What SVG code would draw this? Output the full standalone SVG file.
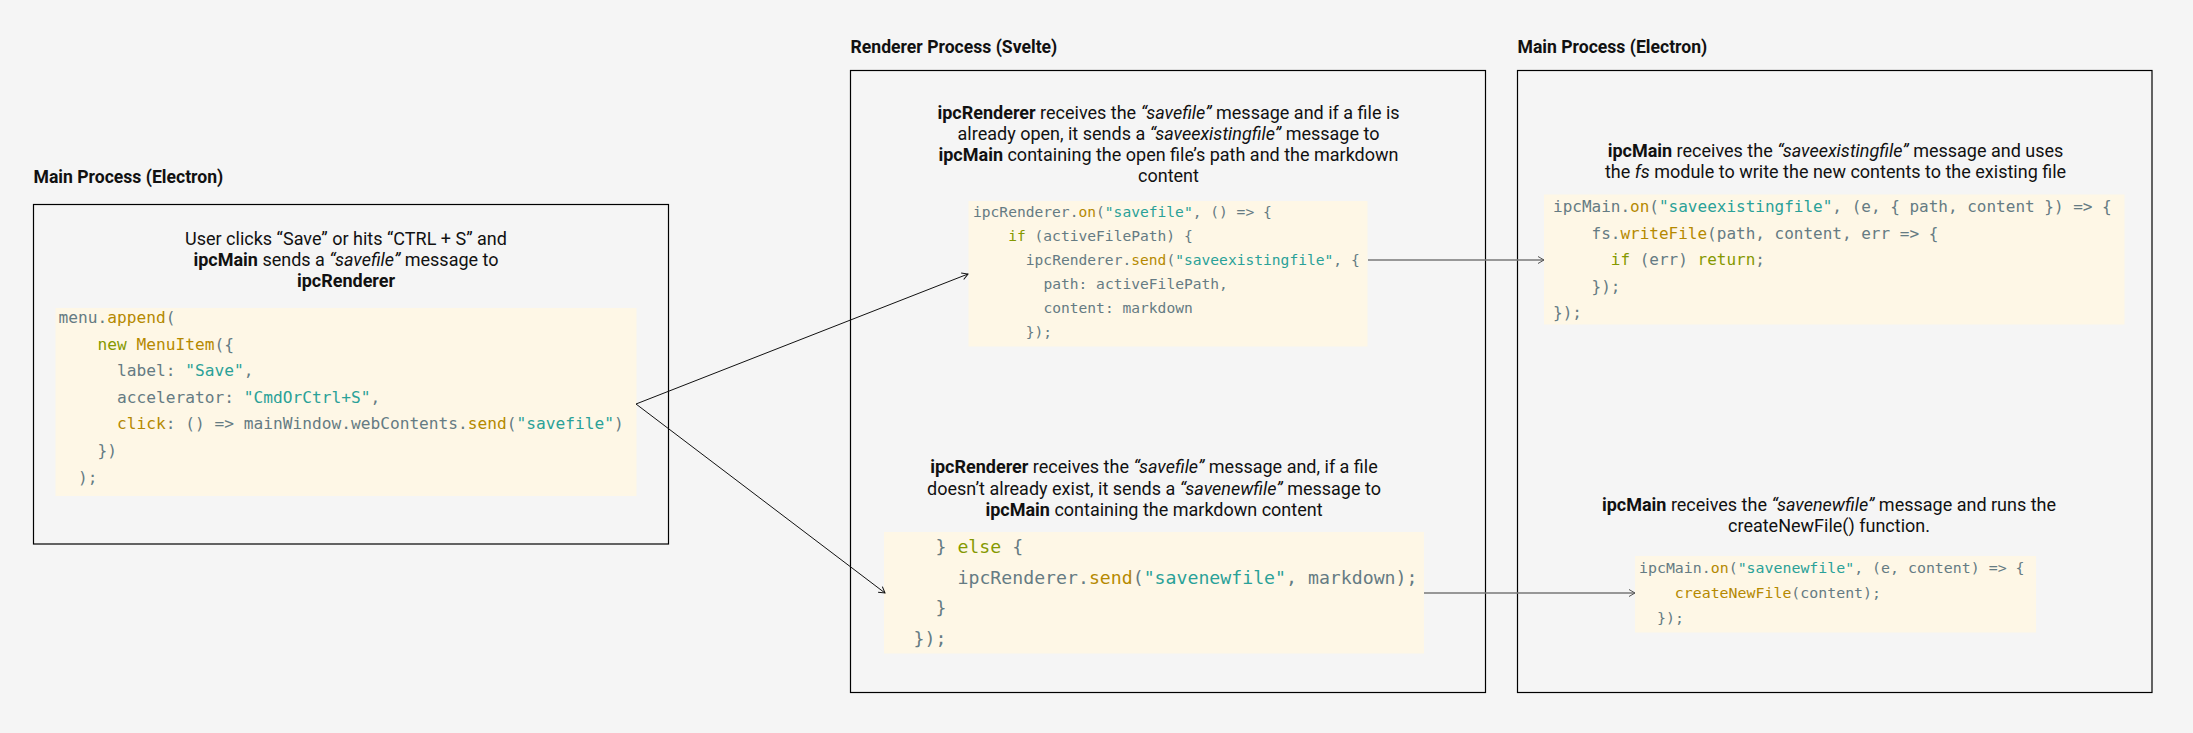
<svg xmlns="http://www.w3.org/2000/svg" width="2193" height="733" viewBox="0 0 2193 733">
<defs>
<style>
.bg{fill:#f5f5f5}
.box{fill:none;stroke:#000;stroke-width:1.2}
.title{font-family:Roboto,"Noto Sans",sans-serif;font-weight:bold;font-size:17.6px;fill:#111}
.desc{font-family:Roboto,"Noto Sans",sans-serif;font-size:18px;fill:#111;text-anchor:middle}
.b{font-weight:bold}
.i{font-style:italic}
.codebg{fill:#fef7e6}
.code{font-family:"DejaVu Sans Mono","Liberation Mono",monospace;fill:#657b83;white-space:pre}
.y{fill:#b58900}
.g{fill:#859900}
.c{fill:#2aa198}
.blk{fill:none;stroke:#111;stroke-width:1}
.gry{fill:none;stroke:#777;stroke-width:1.4}
</style>
<marker id="ahB" markerUnits="userSpaceOnUse" markerWidth="10" markerHeight="10" refX="7" refY="4" orient="auto">
<path d="M1,0.5 L7,4 L1,7.5" fill="none" stroke="#111" stroke-width="1"/>
</marker>
<marker id="ahG" markerUnits="userSpaceOnUse" markerWidth="10" markerHeight="10" refX="7" refY="4" orient="auto">
<path d="M1,0.5 L7,4 L1,7.5" fill="none" stroke="#555" stroke-width="1"/>
</marker>
</defs>
<rect class="bg" x="0" y="0" width="2193" height="733"/>

<g id="main-process-left">
<text class="title" x="33.5" y="182.5">Main Process (Electron)</text>
<rect class="box" x="33.5" y="204.5" width="635" height="339.5"/>
<text class="desc" x="346" y="245">User clicks “Save” or hits “CTRL + S” and</text>
<text class="desc" x="346" y="266"><tspan class="b">ipcMain</tspan> sends a <tspan class="i">“savefile”</tspan> message to</text>
<text class="desc" x="346" y="287"><tspan class="b">ipcRenderer</tspan></text>
<rect class="codebg" x="55.5" y="308" width="581" height="188"/>
<g class="code" font-size="16.2px">
<text x="58.5" y="323">menu.<tspan class="y">append</tspan>(</text>
<text x="97.5" y="349.6"><tspan class="g">new</tspan> <tspan class="y">MenuItem</tspan>({</text>
<text x="117" y="376.2">label: <tspan class="c">"Save"</tspan>,</text>
<text x="117" y="402.8">accelerator: <tspan class="c">"CmdOrCtrl+S"</tspan>,</text>
<text x="117" y="429.4"><tspan class="y">click</tspan>: () =&gt; mainWindow.webContents.<tspan class="y">send</tspan>(<tspan class="c">"savefile"</tspan>)</text>
<text x="97.5" y="456">})</text>
<text x="78" y="482.6">);</text>
</g>
</g>

<g id="renderer-process">
<text class="title" x="850.5" y="52.5">Renderer Process (Svelte)</text>
<rect class="box" x="850.5" y="70.5" width="635" height="622"/>
<g id="renderer-existing">
<text class="desc" x="1168.5" y="118.5"><tspan class="b">ipcRenderer</tspan> receives the <tspan class="i">“savefile”</tspan> message and if a file is</text>
<text class="desc" x="1168.5" y="139.5">already open, it sends a <tspan class="i">“saveexistingfile”</tspan> message to</text>
<text class="desc" x="1168.5" y="160.7"><tspan class="b">ipcMain</tspan> containing the open file’s path and the markdown</text>
<text class="desc" x="1168.5" y="181.7">content</text>
<rect class="codebg" x="968.5" y="201" width="399" height="145.5"/>
<g class="code" font-size="14.6px">
<text x="973" y="217">ipcRenderer.<tspan class="y">on</tspan>(<tspan class="c">"savefile"</tspan>, () =&gt; {</text>
<text x="1008.2" y="241"><tspan class="g">if</tspan> (activeFilePath) {</text>
<text x="1025.8" y="265">ipcRenderer.<tspan class="y">send</tspan>(<tspan class="c">"saveexistingfile"</tspan>, {</text>
<text x="1043.4" y="289">path: activeFilePath,</text>
<text x="1043.4" y="313">content: markdown</text>
<text x="1025.8" y="337">});</text>
</g>
</g>
<g id="renderer-new">
<text class="desc" x="1154" y="473"><tspan class="b">ipcRenderer</tspan> receives the <tspan class="i">“savefile”</tspan> message and, if a file</text>
<text class="desc" x="1154" y="494.5">doesn’t already exist, it sends a <tspan class="i">“savenewfile”</tspan> message to</text>
<text class="desc" x="1154" y="516"><tspan class="b">ipcMain</tspan> containing the markdown content</text>
<rect class="codebg" x="884" y="532" width="540" height="121.5"/>
<g class="code" font-size="18.2px">
<text x="935.5" y="553">} <tspan class="g">else</tspan> {</text>
<text x="957.5" y="583.5">ipcRenderer.<tspan class="y">send</tspan>(<tspan class="c">"savenewfile"</tspan>, markdown);</text>
<text x="935.5" y="614">}</text>
<text x="913.5" y="644.5">});</text>
</g>
</g>
</g>

<g id="main-process-right">
<text class="title" x="1517.5" y="52.5">Main Process (Electron)</text>
<rect class="box" x="1517.5" y="70.5" width="634.5" height="622"/>
<g id="main-existing">
<text class="desc" x="1835.5" y="157"><tspan class="b">ipcMain</tspan> receives the <tspan class="i">“saveexistingfile”</tspan> message and uses</text>
<text class="desc" x="1835.5" y="178">the <tspan class="i">fs</tspan> module to write the new contents to the existing file</text>
<rect class="codebg" x="1544" y="194.5" width="580.5" height="130"/>
<g class="code" font-size="16px">
<text x="1553" y="212">ipcMain.<tspan class="y">on</tspan>(<tspan class="c">"saveexistingfile"</tspan>, (e, { path, content }) =&gt; {</text>
<text x="1591.5" y="238.6">fs.<tspan class="y">writeFile</tspan>(path, content, err =&gt; {</text>
<text x="1610.8" y="265.2"><tspan class="g">if</tspan> (err) <tspan class="g">return</tspan>;</text>
<text x="1591.5" y="291.8">});</text>
<text x="1553" y="318.4">});</text>
</g>
</g>
<g id="main-new">
<text class="desc" x="1829" y="510.5"><tspan class="b">ipcMain</tspan> receives the <tspan class="i">“savenewfile”</tspan> message and runs the</text>
<text class="desc" x="1829" y="531.5">createNewFile() function.</text>
<rect class="codebg" x="1635" y="556" width="401" height="76.5"/>
<g class="code" font-size="14.9px">
<text x="1639" y="572.5">ipcMain.<tspan class="y">on</tspan>(<tspan class="c">"savenewfile"</tspan>, (e, content) =&gt; {</text>
<text x="1674.8" y="597.5"><tspan class="y">createNewFile</tspan>(content);</text>
<text x="1657" y="622.5">});</text>
</g>
</g>
</g>

<g id="connectors">
<line class="blk" x1="636" y1="404" x2="968" y2="274" marker-end="url(#ahB)"/>
<line class="blk" x1="636" y1="404" x2="885" y2="593" marker-end="url(#ahB)"/>
<line class="gry" x1="1368" y1="260" x2="1544" y2="260" marker-end="url(#ahG)"/>
<line class="gry" x1="1424" y1="593" x2="1635" y2="593" marker-end="url(#ahG)"/>
</g>
</svg>
